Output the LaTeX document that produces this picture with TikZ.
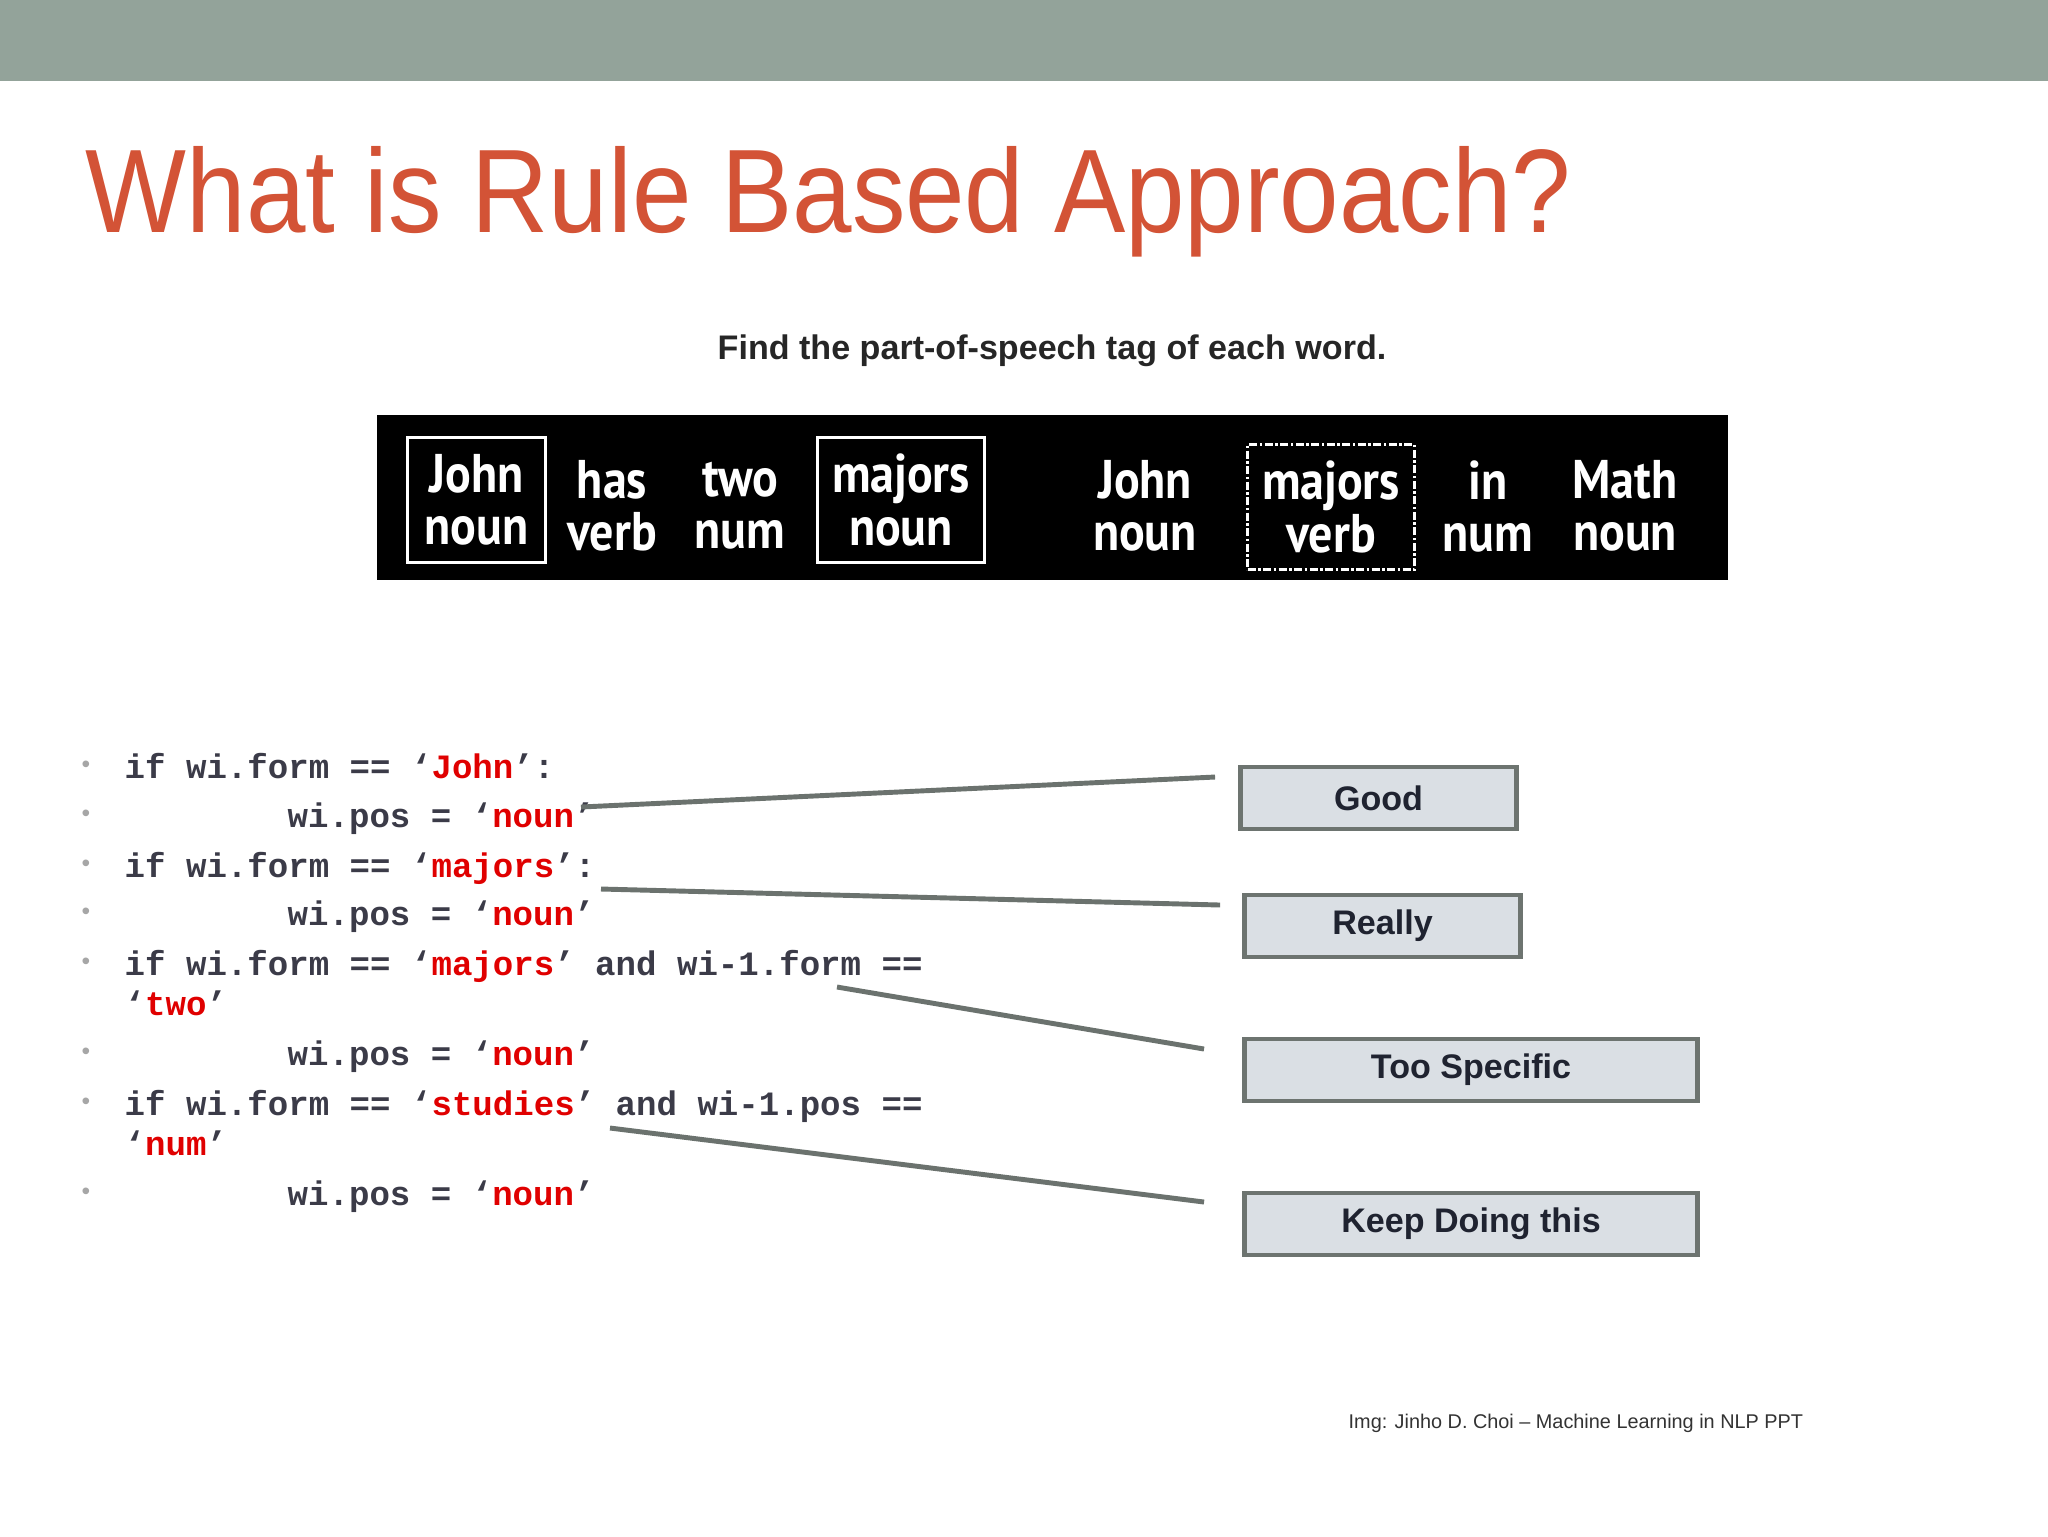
\documentclass[tikz,border=0pt]{standalone}
\usepackage{fontspec}
\usepackage{xcolor}
\usetikzlibrary{calc, positioning}
\setmainfont{Liberation Sans}
\newfontfamily\titlefont[FakeStretch=0.9]{Liberation Sans}
\newfontfamily\wordfont[FakeStretch=0.88]{PT Sans}
\newfontfamily\codefont{Liberation Mono}
\definecolor{ruleBar}{HTML}{93A39A}
\definecolor{ruleTitle}{HTML}{D35336}
\definecolor{ruleInk}{HTML}{3B3B48}
\definecolor{ruleRed}{HTML}{E00000}
\definecolor{ruleBullet}{HTML}{A6A6A6}
\definecolor{ruleBoxFill}{HTML}{DADFE4}
\definecolor{ruleBoxLine}{HTML}{6D7470}
\definecolor{ruleLink}{HTML}{6B726E}
\definecolor{ruleText}{HTML}{1F2330}
\newcommand{\rw}[1]{\textcolor{ruleRed}{#1}}
\tikzset{
  rule/word/.style    = {text=white, align=center, inner sep=0pt,
                         font=\wordfont\bfseries\fontsize{15.5}{14.8}\selectfont},
  rule/wordbox/.style = {rule/word, draw=white, line width=0.85pt,
                         minimum height=12.5mm},
  rule/code/.style    = {anchor=base west, inner sep=0pt, text=ruleInk,
                         font=\codefont\bfseries\fontsize{9.7}{11}\selectfont},
  rule/bullet/.style  = {inner sep=0pt, text=ruleBullet, font=\fontsize{7}{8}\selectfont},
  rule/verdict/.style = {draw=ruleBoxLine, fill=ruleBoxFill, line width=1.4pt,
                         text=ruleText, font=\bfseries\fontsize{9.7}{11}\selectfont,
                         minimum height=6.2mm, inner sep=0pt},
  rule/link/.style    = {draw=ruleLink, line width=1.4pt},
}
\begin{document}
\begin{tikzpicture}[x=0.1mm, y=-0.1mm]
  \useasboundingbox (0,0) rectangle (2048,1536);
  \fill[white] (0,0) rectangle (2048,1536);
  % --- header band and title ---
  \fill[ruleBar] (0,0) rectangle (2048,81);
  \node[anchor=base west, inner sep=0pt, text=ruleTitle,
        font=\titlefont\fontsize{33.8}{36}\selectfont] (title) at (85,232) {What is Rule Based Approach?};
  \node[anchor=base, inner sep=0pt, text=black!85,
        font=\bfseries\fontsize{9.7}{11}\selectfont] (task) at (1052,359) {Find the part-of-speech tag of each word.};
  % --- tagged sentences on the black strip ---
  \node[fill=black, minimum width=135.1mm, minimum height=16.5mm, inner sep=0pt] (strip) at (1052.5,497.5) {};
  \node[rule/wordbox, minimum width=13.8mm] (w1) at (476.5,500) {John\\noun};
  \node[rule/word]                          (w2) at (612,506)   {has\\verb};
  \node[rule/word]                          (w3) at (740,506)   {two\\num};
  \node[rule/wordbox, minimum width=16.7mm] (w4) at (901,500)   {majors\\noun};
  \node[rule/word]                          (w5) at (1145,506)  {John\\noun};
  \node[rule/wordbox, minimum width=16.7mm,
        dash pattern=on 0.8mm off 0.25mm on 0.25mm off 0.25mm] (w6) at (1331,507) {majors\\verb};
  \node[rule/word]                          (w7) at (1488,506)  {in\\num};
  \node[rule/word]                          (w8) at (1625,506)  {Math\\noun};
  % --- hand written rules ---
  \def\xBul{86}
  \def\xIf{124}
  \def\xPos{287}
  \foreach \y [count=\i] in {767, 816, 866, 914, 964, 1054, 1104, 1194}
    \node[rule/bullet] (bul\i) at (\xBul,\y) {•};
  \node[rule/code] (c1)  at (\xIf, 778)  {if wi.form == ‘\rw{John}’:};
  \node[rule/code] (c2)  at (\xPos, 827) {wi.pos = ‘\rw{noun}’};
  \node[rule/code] (c3)  at (\xIf, 877)  {if wi.form == ‘\rw{majors}’:};
  \node[rule/code] (c4)  at (\xPos, 925) {wi.pos = ‘\rw{noun}’};
  \node[rule/code] (c5)  at (\xIf, 975)  {if wi.form == ‘\rw{majors}’ and wi-1.form ==};
  \node[rule/code] (c5b) at (\xIf, 1015) {‘\rw{two}’};
  \node[rule/code] (c6)  at (\xPos, 1065) {wi.pos = ‘\rw{noun}’};
  \node[rule/code] (c7)  at (\xIf, 1115) {if wi.form == ‘\rw{studies}’ and wi-1.pos ==};
  \node[rule/code] (c7b) at (\xIf, 1155) {‘\rw{num}’};
  \node[rule/code] (c8)  at (\xPos, 1205) {wi.pos = ‘\rw{noun}’};
  % --- verdicts ---
  \node[rule/verdict, minimum width=27.6mm] (good)     at (1378.5,798)  {Good};
  \node[rule/verdict, minimum width=27.6mm] (really)   at (1382.5,926)  {Really};
  \node[rule/verdict, minimum width=45.3mm] (specific) at (1471,1070)   {Too Specific};
  \node[rule/verdict, minimum width=45.3mm] (keep)     at (1471,1224)   {Keep Doing this};
  % --- links from rules to verdicts ---
  \coordinate (s1) at (581,807);
  \coordinate (s2) at (601,889);
  \coordinate (s3) at (837,987);
  \coordinate (s4) at (610,1128);
  \draw[rule/link] (s1) -- ($(good.west)+(-23,-21)$);
  \draw[rule/link] (s2) -- ($(really.west)+(-22,-21)$);
  \draw[rule/link] (s3) -- ($(specific.west)+(-38,-21)$);
  \draw[rule/link] (s4) -- ($(keep.west)+(-38,-22)$);
  % --- source ---
  \node[anchor=base west, inner sep=0pt, text=black!80,
        font=\fontsize{5.65}{7}\selectfont] (credit) at (1348,1428) {Img: Jinho D. Choi – Machine Learning in NLP PPT};
\end{tikzpicture}
\end{document}
